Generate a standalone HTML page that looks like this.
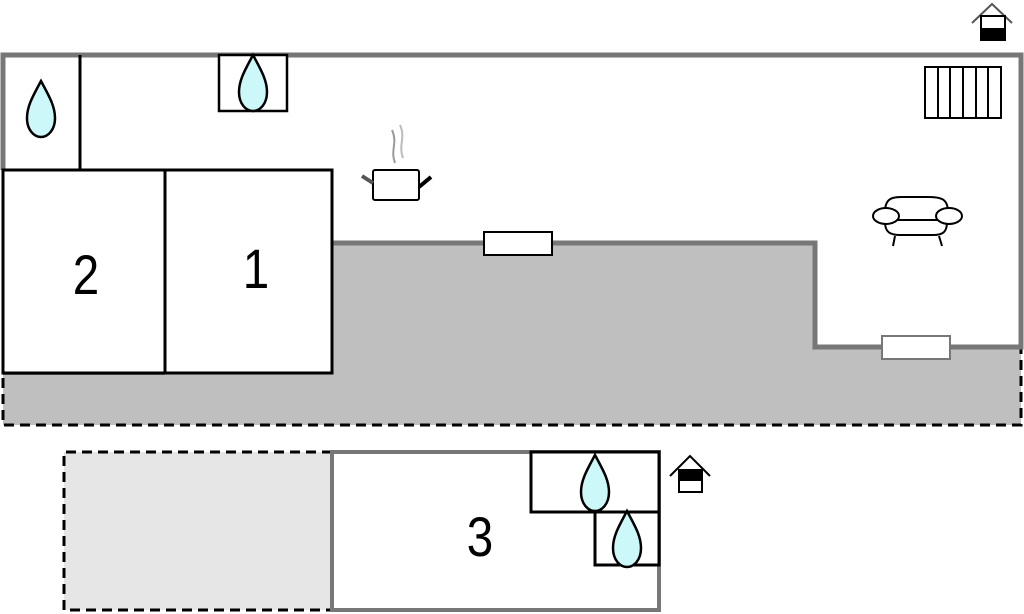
<!DOCTYPE html>
<html><head><style>body{margin:0;background:#fff}svg{display:block}</style></head><body>
<svg width="1024" height="614" xmlns="http://www.w3.org/2000/svg" font-family="Liberation Sans, sans-serif">
<defs>
<path id="drop" d="M0,-29 C8,-14 14,-4 14,8 C14,20 7,27 0,27 C-7,27 -14,20 -14,8 C-14,-4 -8,-14 0,-29Z" fill="#ccf8fa" stroke="#000" stroke-width="2.5"/>
</defs>
<path d="M3,373 L333,373 L333,243 L815,243 L815,347 L1021,347 L1021,425 L3,425Z" fill="#bfbfbf"/>
<path d="M3,170 L3,425 L1021,425 L1021,180" fill="none" stroke="#000" stroke-width="3" stroke-dasharray="10,6"/>
<path d="M3,170 L3,55 L1021,55 L1021,347 L815,347 L815,243 L333,243" fill="none" stroke="#777" stroke-width="5"/>
<line x1="3" y1="373" x2="165" y2="373" stroke="#777" stroke-width="4"/>
<rect x="3" y="170" width="162" height="203" fill="#fff" stroke="#000" stroke-width="3"/>
<rect x="165" y="170" width="167" height="203" fill="#fff" stroke="#000" stroke-width="3"/>
<line x1="80" y1="55" x2="80" y2="170" stroke="#000" stroke-width="3"/>
<text transform="translate(86,294) scale(0.85,1)" font-size="56" text-anchor="middle">2</text>
<text transform="translate(256,288) scale(0.85,1)" font-size="56" text-anchor="middle">1</text>
<use href="#drop" x="41" y="110"/>
<rect x="219" y="55" width="68" height="56" fill="#fff" stroke="#000" stroke-width="2.5"/>
<use href="#drop" x="253" y="84"/>
<rect x="373" y="170" width="46" height="30" rx="2" fill="#fff" stroke="#000" stroke-width="2"/>
<line x1="362" y1="176" x2="373" y2="183" stroke="#555" stroke-width="4"/>
<line x1="419" y1="187" x2="431" y2="177" stroke="#000" stroke-width="4"/>
<path d="M395,163 C390,150 398,143 392,130" fill="none" stroke="#999" stroke-width="2"/>
<path d="M403,158 C398,145 406,138 400,125" fill="none" stroke="#bbb" stroke-width="2"/>
<rect x="484" y="232" width="68" height="23" fill="#fff" stroke="#000" stroke-width="2"/>
<rect x="882" y="336" width="68" height="23" fill="#fff" stroke="#777" stroke-width="2"/>
<rect x="925" y="67" width="76" height="51" fill="#fff" stroke="#000" stroke-width="2"/>
<g stroke="#000" stroke-width="2"><line x1="938" y1="67" x2="938" y2="118"/><line x1="950" y1="67" x2="950" y2="118"/><line x1="963" y1="67" x2="963" y2="118"/><line x1="976" y1="67" x2="976" y2="118"/><line x1="988" y1="67" x2="988" y2="118"/></g>
<g fill="#fff" stroke="#000" stroke-width="2">
<path d="M885,212 C885,196 895,197 905,197 L928,197 C940,197 948,198 948,212"/>
<path d="M885,222 C885,232 890,235 900,235 L933,235 C943,235 947,232 947,222"/>
<line x1="895" y1="236" x2="893" y2="246"/><line x1="939" y1="236" x2="942" y2="246"/>
<line x1="895" y1="220" x2="940" y2="220"/>
<ellipse cx="886" cy="216" rx="13" ry="8"/>
<ellipse cx="949" cy="216" rx="13" ry="8"/>
</g>
<path d="M972,23 L992,4 L1012,23" fill="none" stroke="#555" stroke-width="2"/>
<rect x="981" y="16" width="24" height="24" fill="#fff" stroke="#000" stroke-width="2"/>
<rect x="981" y="28" width="24" height="12" fill="#000"/>
<rect x="64" y="452" width="268" height="158" fill="#e6e6e6"/>
<path d="M332,452 L64,452 L64,610 L332,610" fill="none" stroke="#000" stroke-width="3" stroke-dasharray="10,6"/>
<rect x="332" y="452" width="327" height="158" fill="#fff" stroke="#777" stroke-width="4"/>
<rect x="531" y="452" width="128" height="60" fill="#fff" stroke="#000" stroke-width="3"/>
<rect x="595" y="512" width="64" height="53" fill="#fff" stroke="#000" stroke-width="3"/>
<use href="#drop" x="595" y="484"/>
<use href="#drop" x="627" y="540"/>
<text transform="translate(480,556) scale(0.85,1)" font-size="56" text-anchor="middle">3</text>
<path d="M670,476 L690,456 L710,476" fill="none" stroke="#000" stroke-width="2"/>
<rect x="679" y="470" width="23" height="22" fill="#fff" stroke="#000" stroke-width="2"/>
<rect x="679" y="470" width="23" height="11" fill="#000"/>
</svg>
</body></html>
